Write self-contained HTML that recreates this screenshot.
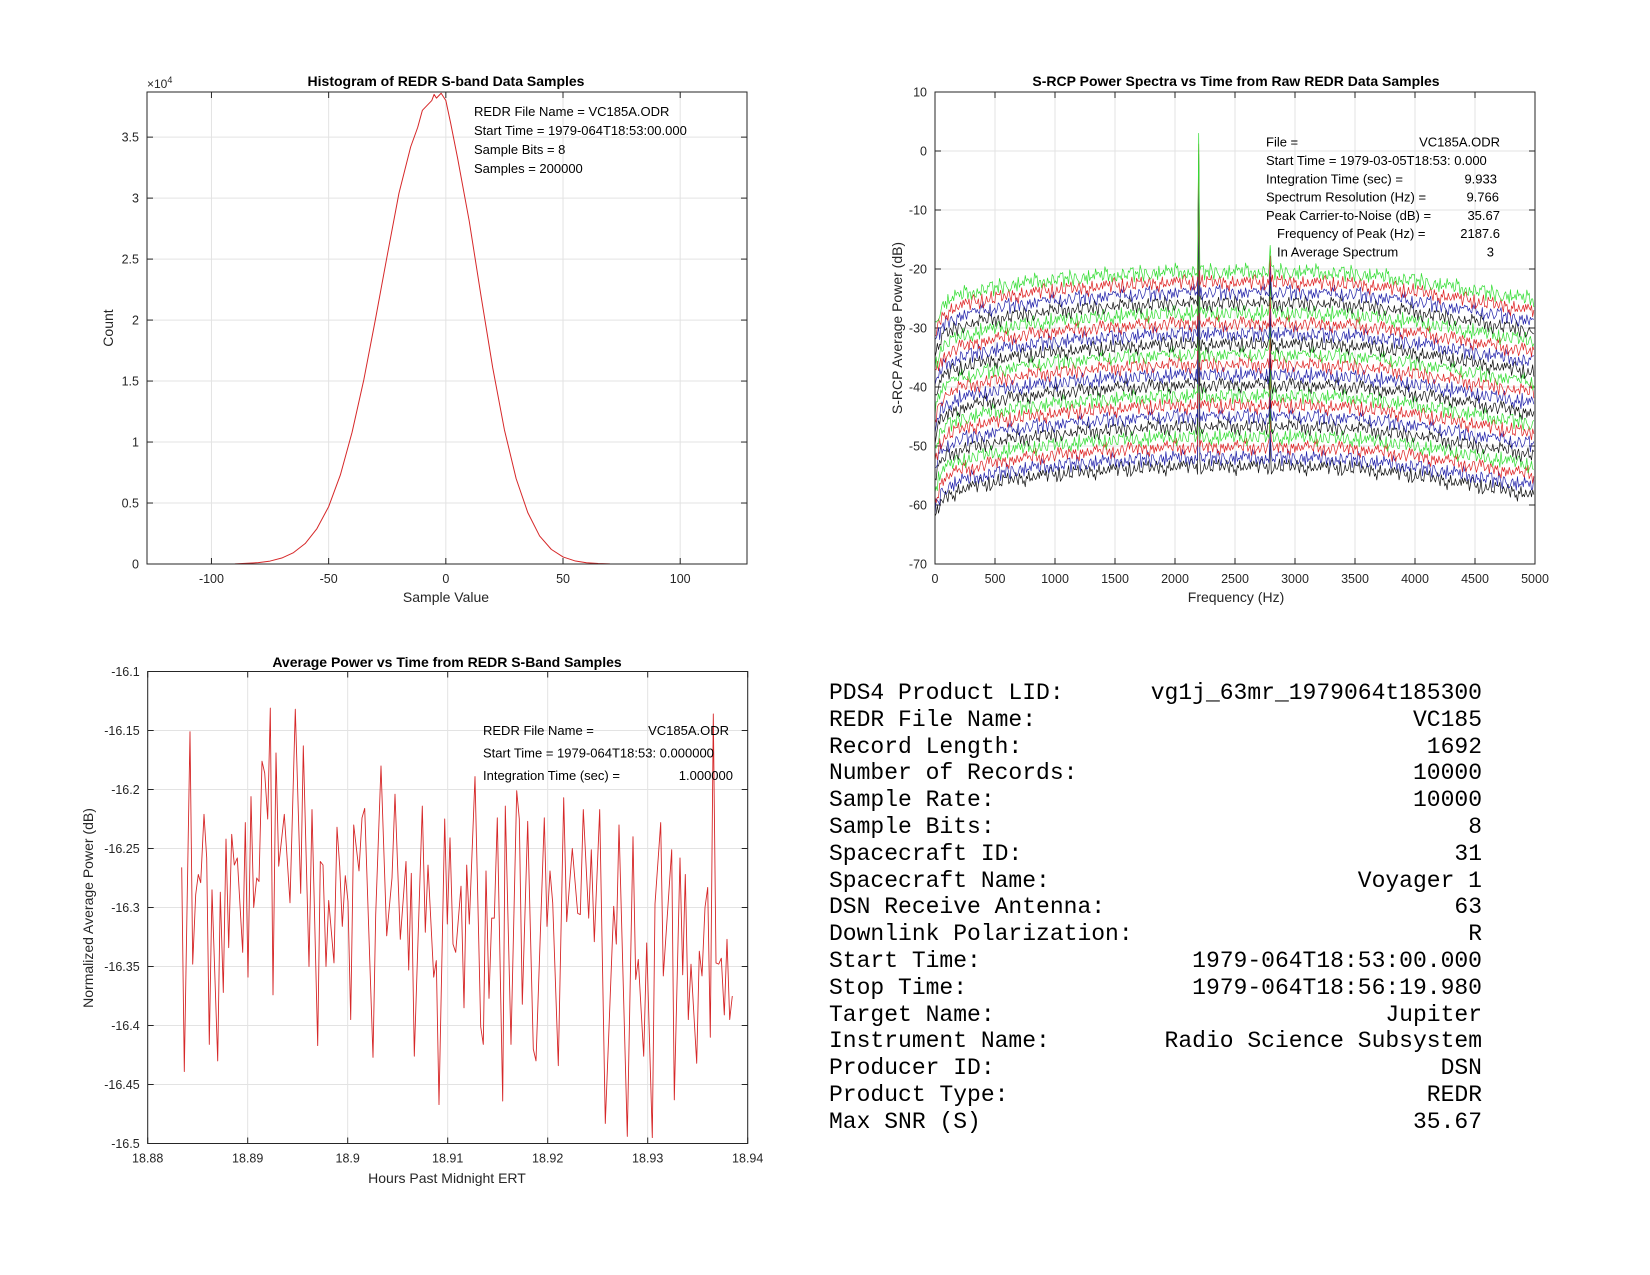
<!DOCTYPE html>
<html><head><meta charset="utf-8"><style>
html,body{margin:0;padding:0;background:#fff;}
body{width:1650px;height:1275px;overflow:hidden;position:relative;font-family:"Liberation Sans",sans-serif;}
svg text{font-family:"Liberation Sans",sans-serif;}
.info{position:absolute;left:829px;width:653px;font-family:"Liberation Mono",monospace;font-size:23px;line-height:26.8px;color:#000;}
.row{display:flex;justify-content:space-between;white-space:pre;height:26.8px;}
</style></head><body>
<svg id="fig" width="1650" height="1275" style="position:absolute;left:0;top:0"></svg>
<div class="info" style="top:680px">
<div class="row"><span>PDS4 Product LID:</span><span>vg1j_63mr_1979064t185300</span></div>
<div class="row"><span>REDR File Name:</span><span>VC185</span></div>
<div class="row"><span>Record Length:</span><span>1692</span></div>
<div class="row"><span>Number of Records:</span><span>10000</span></div>
<div class="row"><span>Sample Rate:</span><span>10000</span></div>
<div class="row"><span>Sample Bits:</span><span>8</span></div>
<div class="row"><span>Spacecraft ID:</span><span>31</span></div>
<div class="row"><span>Spacecraft Name:</span><span>Voyager 1</span></div>
<div class="row"><span>DSN Receive Antenna:</span><span>63</span></div>
<div class="row"><span>Downlink Polarization:</span><span>R</span></div>
<div class="row"><span>Start Time:</span><span>1979-064T18:53:00.000</span></div>
<div class="row"><span>Stop Time:</span><span>1979-064T18:56:19.980</span></div>
<div class="row"><span>Target Name:</span><span>Jupiter</span></div>
<div class="row"><span>Instrument Name:</span><span>Radio Science Subsystem</span></div>
<div class="row"><span>Producer ID:</span><span>DSN</span></div>
<div class="row"><span>Product Type:</span><span>REDR</span></div>
<div class="row"><span>Max SNR (S)</span><span>35.67</span></div>
</div>
<script>
// ---------- Histogram data ----------
const histValues = [-127,-90,-80,-75,-70,-65,-60,-55,-50,-45,-40,-35,-30,-25,-20,-15,-12,-10,-8,-6,-5,-4,-2,0,2,5,10,15,20,25,30,35,40,45,50,55,60,65,70,80,128];
const histCounts = [0,0.001,0.011,0.024,0.049,0.093,0.168,0.29,0.47,0.73,1.08,1.51,2.01,2.53,3.04,3.42,3.58,3.72,3.76,3.8,3.85,3.82,3.86,3.8,3.62,3.33,2.81,2.20,1.61,1.10,0.70,0.42,0.23,0.12,0.058,0.026,0.010,0.004,0.001,0,0];
const histXTicks = [-100,-50,0,50,100];
const histYTicks = [0,0.5,1,1.5,2,2.5,3,3.5];

// ---------- Spectrum data ----------
const specShapeFreq = [0,50,100,200,400,700,1000,1500,2000,2500,3000,3500,4000,4300,4600,5000];
const specShapeOffset = [-9,-6,-5,-4,-3,-2,-1.3,-0.5,0,0,0,-0.3,-1.5,-2.5,-3.5,-4.8];
const specTraceLevels = [-20.5,-22.3,-24,-25.8,-27.5,-29.3,-31,-32.8,-34.5,-36.2,-38,-39.7,-41.5,-43.2,-45,-46.7,-48.5,-50.2,-52,-53.5];
const specColors = ["#33dd33","#dd2222","#2222aa","#111111"];
const specNoise = [0.8,-1.2,1.5,-0.4,0.2,-1.8,1.1,0.5,-0.9,1.7,-1.4,0.3,-0.2,1.2,-1.6,0.9,-0.7,1.9,-1.1,0.1,0.6,-1.5,1.3,-0.3,-1.0,1.6,-0.6,0.4,-1.9,1.0,0.2,-0.8,1.4,-1.3,0.7,-0.1,1.8,-1.7,0.5,-0.5,1.1,-1.2,0.0,1.5,-0.9,0.3,-1.4,1.7,-0.2,0.9,-1.6,1.2,-0.4,0.6,-1.0,1.9,-0.6,0.1,-1.8,1.3];
const specCarrierFreq = [2200, 2790];
const specCarrierHeight = [23.5, 4.5];
const specXTicks = [0,500,1000,1500,2000,2500,3000,3500,4000,4500,5000];
const specYTicks = [10,0,-10,-20,-30,-40,-50,-60,-70];

// ---------- Power vs time data ----------
const powTime = [18.88340,18.88366,18.88423,18.88450,18.88480,18.88506,18.88530,18.88563,18.88590,18.88616,18.88643,18.88700,18.88726,18.88756,18.88783,18.88810,18.88840,18.88866,18.88896,18.88950,18.88976,18.89003,18.89033,18.89060,18.89090,18.89113,18.89143,18.89170,18.89200,18.89226,18.89253,18.89283,18.89310,18.89366,18.89423,18.89476,18.89530,18.89556,18.89613,18.89643,18.89700,18.89726,18.89753,18.89783,18.89810,18.89863,18.89893,18.89920,18.89946,18.89976,18.90003,18.90030,18.90060,18.90113,18.90143,18.90170,18.90253,
18.90280,18.90333,18.90390,18.90443,18.90473,18.90526,18.90583,18.90610,18.90636,18.90666,18.90746,18.90776,18.90803,18.90860,18.90886,18.90913,18.90970,18.90996,18.91023,18.91053,18.91080,18.91133,18.91163,18.91190,18.91216,18.91273,18.91330,18.91356,18.91383,18.91413,18.91440,18.91466,18.91496,18.91550,18.91576,18.91633,18.91690,18.91716,18.91746,18.91800,18.91856,18.91883,18.91966,18.91993,18.92023,18.92050,18.92106,18.92160,18.92190,
18.92246,18.92300,18.92326,18.92356,18.92410,18.92436,18.92466,18.92520,18.92576,18.92660,18.92686,18.92713,18.92796,18.92853,18.92880,18.92906,18.92960,18.92990,18.93046,18.93073,18.93130,18.93156,18.93240,18.93266,18.93323,18.93350,18.93376,18.93406,18.93433,18.93490,18.93516,18.93543,18.93573,18.93600,18.93626,18.93656,18.93683,18.93710,18.93736,18.93766,18.93793,18.93820,18.93846];
const powValue = [-16.266,-16.439,-16.151,-16.348,-16.289,-16.272,-16.279,-16.221,-16.258,-16.416,-16.285,-16.430,-16.287,-16.372,-16.242,-16.334,-16.238,-16.264,-16.258,-16.338,-16.228,-16.359,-16.206,-16.300,-16.275,-16.278,-16.176,-16.186,-16.225,-16.131,-16.374,-16.169,-16.265,-16.221,-16.296,-16.132,-16.288,-16.163,-16.350,-16.217,-16.417,-16.261,-16.264,-16.350,-16.294,-16.347,-16.232,-16.265,-16.316,-16.273,-16.295,-16.395,-16.230,-16.269,-16.224,-16.216,-16.427,
-16.306,-16.180,-16.324,-16.275,-16.204,-16.327,-16.261,-16.353,-16.271,-16.426,-16.214,-16.321,-16.264,-16.359,-16.345,-16.467,-16.225,-16.314,-16.241,-16.331,-16.338,-16.282,-16.385,-16.264,-16.314,-16.189,-16.401,-16.416,-16.269,-16.377,-16.309,-16.309,-16.224,-16.464,-16.214,-16.416,-16.201,-16.225,-16.382,-16.227,-16.420,-16.430,-16.224,-16.316,-16.269,-16.296,-16.434,-16.207,-16.312,
-16.250,-16.305,-16.306,-16.217,-16.309,-16.251,-16.329,-16.217,-16.483,-16.299,-16.331,-16.230,-16.494,-16.240,-16.361,-16.344,-16.426,-16.330,-16.495,-16.297,-16.228,-16.358,-16.251,-16.463,-16.258,-16.357,-16.272,-16.395,-16.348,-16.432,-16.337,-16.358,-16.300,-16.283,-16.410,-16.136,-16.347,-16.348,-16.343,-16.391,-16.327,-16.395,-16.375];
const powXTicks = [18.88,18.89,18.9,18.91,18.92,18.93,18.94];
const powYTicks = [-16.1,-16.15,-16.2,-16.25,-16.3,-16.35,-16.4,-16.45,-16.5];

const NS="http://www.w3.org/2000/svg";
const svg=document.getElementById('fig');
function mk(tag,attrs,parent){const e=document.createElementNS(NS,tag);for(const k in attrs)e.setAttribute(k,attrs[k]);(parent||svg).appendChild(e);return e;}
function txt(s,x,y,attrs,parent){const t=mk('text',Object.assign({x:x,y:y,'font-size':12.5,fill:'#262626'},attrs),parent);t.textContent=s;return t;}

function makeAxes(name,L,R,T,B,xmin,xmax,ymin,ymax,xt,yt,xfmt,yfmt){
  const g=mk('g',{});
  
  
  const sx=v=>L+(v-xmin)/(xmax-xmin)*(R-L);
  const sy=v=>B-(v-ymin)/(ymax-ymin)*(B-T);
  mk('rect',{x:L,y:T,width:R-L,height:B-T,fill:'#fff'},g);
  xt.forEach(v=>{const x=sx(v);
    const gl=mk('line',{x1:x,x2:x,y1:T,y2:B,stroke:'#e3e3e3','stroke-width':1},g);
    
    mk('line',{x1:x,x2:x,y1:B,y2:B-6,stroke:'#262626','stroke-width':1},g);
    mk('line',{x1:x,x2:x,y1:T,y2:T+6,stroke:'#262626','stroke-width':1},g);
    const t=txt(xfmt(v),x,B+19,{'text-anchor':'middle'},g);
    });
  yt.forEach(v=>{const y=sy(v);
    const gl=mk('line',{x1:L,x2:R,y1:y,y2:y,stroke:'#e3e3e3','stroke-width':1},g);
    
    mk('line',{x1:L,x2:L+6,y1:y,y2:y,stroke:'#262626','stroke-width':1},g);
    mk('line',{x1:R,x2:R-6,y1:y,y2:y,stroke:'#262626','stroke-width':1},g);
    const t=txt(yfmt(v),L-8,y+4.5,{'text-anchor':'end'},g);
    });
  return {g,sx,sy,L,R,T,B,box(){const b=mk('rect',{x:L,y:T,width:R-L,height:B-T,fill:'none',stroke:'#262626','stroke-width':1},g);}};
}
function poly(ax,xs,ys,color,w,name){
  const pts=xs.map((x,i)=>ax.sx(x).toFixed(2)+','+ax.sy(ys[i]).toFixed(2)).join(' ');
  const p=mk('polyline',{points:pts,fill:'none',stroke:color,'stroke-width':w,'stroke-linejoin':'round'},ax.g);
  
  
  return p;
}
function label(s,x,y,attrs,name){const t=txt(s,x,y,attrs);return t;}

// Histogram
const h=makeAxes('histogram-chart',147,747,92,564,-127.5,128.5,0,3.87,histXTicks,histYTicks,v=>String(v),v=>String(v));
poly(h,histValues,histCounts,'#d62728',1,'histogram-curve');
h.box();
label('Histogram of REDR S-band Data Samples',446,86,{'text-anchor':'middle','font-weight':'bold','font-size':14,fill:'#000'},'histogram-title');
const ex=label('×10',147,88,{'font-size':12},'y-axis-exponent');
const sup=mk('tspan',{dy:-5,'font-size':9});sup.textContent='4';ex.appendChild(sup);
label('Sample Value',446,602,{'text-anchor':'middle','font-size':14},'x-axis-title');
label('Count',113,328,{'text-anchor':'middle','font-size':14,transform:'rotate(-90 113 328)'},'y-axis-title');
['REDR File Name = VC185A.ODR','Start Time = 1979-064T18:53:00.000','Sample Bits = 8','Samples = 200000'].forEach((s,i)=>label(s,474,116+i*19,{'font-size':13,fill:'#000'},'histogram-annotation'));

// Spectrum
const sp=makeAxes('spectrum-chart',935,1535,92,564,0,5000,-70,10,specXTicks,specYTicks,v=>String(v),v=>String(v));
function shapeAt(f){for(let j=1;j<specShapeFreq.length;j++){if(f<=specShapeFreq[j]){const a=specShapeFreq[j-1],b=specShapeFreq[j];return specShapeOffset[j-1]+(f-a)/(b-a)*(specShapeOffset[j]-specShapeOffset[j-1]);}}return specShapeOffset[specShapeOffset.length-1];}
const df=9.766;
for(let k=specTraceLevels.length-1;k>=0;k--){
  const fx=[],fy=[];
  for(let i=0;i*df<=5000;i++){
    const f=i*df;
    let v=specTraceLevels[k]+shapeAt(f)+0.55*specNoise[(i*7+k*11)%specNoise.length]+0.3*specNoise[(i+k*3)%specNoise.length];
    specCarrierFreq.forEach((cf,c)=>{if(Math.abs(f-cf)<df/2)v=specTraceLevels[k]+specCarrierHeight[c];});
    fx.push(f);fy.push(v);
  }
  poly(sp,fx,fy,specColors[k%4],0.7,'spectrum-trace');
}
sp.box();
label('S-RCP Power Spectra vs Time from Raw REDR Data Samples',1236,86,{'text-anchor':'middle','font-weight':'bold','font-size':14,fill:'#000'},'spectrum-title');
label('Frequency (Hz)',1236,602,{'text-anchor':'middle','font-size':14},'spectrum-x-axis-title');
label('S-RCP Average Power (dB)',902,328,{'text-anchor':'middle','font-size':14,transform:'rotate(-90 902 328)'},'spectrum-y-axis-title');
const spL=[['File =','VC185A.ODR',1266,1500],['Start Time = 1979-03-05T18:53: 0.000','',1266,1500],['Integration Time (sec) =','9.933',1266,1497],['Spectrum Resolution (Hz) =','9.766',1266,1499],['Peak Carrier-to-Noise (dB) =','35.67',1266,1500],['Frequency of Peak (Hz) =','2187.6',1277,1500],['In Average Spectrum','3',1277,1494]];
spL.forEach((r,i)=>{const y=146.7+i*18.3;label(r[0],r[2],y,{'font-size':13,fill:'#000'},'spectrum-annotation-label');if(r[1])label(r[1],r[3],y,{'font-size':13,fill:'#000','text-anchor':'end'},'spectrum-annotation-value');});

// Power vs time
const pw=makeAxes('power-time-chart',147.7,747.7,671.5,1143.5,18.88,18.94,-16.5,-16.1,powXTicks,powYTicks,v=>String(+v.toFixed(2)),v=>String(+v.toFixed(2)));
poly(pw,powTime,powValue,'#d62728',0.9,'power-line');
pw.box();
label('Average Power vs Time from REDR S-Band Samples',447,667,{'text-anchor':'middle','font-weight':'bold','font-size':14,fill:'#000'},'power-title');
label('Hours Past Midnight ERT',447,1183,{'text-anchor':'middle','font-size':14},'power-x-axis-title');
label('Normalized Average Power (dB)',93,908,{'text-anchor':'middle','font-size':14,transform:'rotate(-90 93 908)'},'power-y-axis-title');
[['REDR File Name =','VC185A.ODR'],['Start Time = 1979-064T18:53: 0.000000',''],['Integration Time (sec) =','1.000000']].forEach((r,i)=>{const y=735+i*22.5;label(r[0],483,y,{'font-size':13,fill:'#000'},'power-annotation-label');if(r[1])label(r[1],i==2?733:729,y,{'font-size':13,fill:'#000','text-anchor':'end'},'power-annotation-value');});
</script>
</body></html>
